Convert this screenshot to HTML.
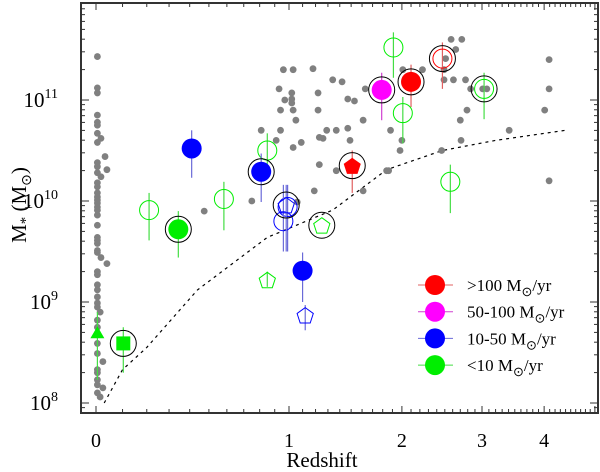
<!DOCTYPE html>
<html><head><meta charset="utf-8"><style>
html,body{margin:0;padding:0;background:#fff;}
svg{display:block;font-family:"Liberation Serif",serif;}
</style></head><body>
<svg id="chart" width="600" height="472" viewBox="0 0 600 472" xmlns="http://www.w3.org/2000/svg"></svg>
<script>
// ---- data ----
const greyZ = [0.005,0.005,0.005,0.005,0.005,0.005,0.005,0.005,0.018,0.033,0.005,0.005,0.04,0.005,0.018,0.005,0.005,0.005,0.005,0.005,0.005,0.005,0.005,0.005,0.005,0.005,0.005,0.005,0.005,0.005,0.018,0.04,0.005,0.005,0.005,0.005,0.005,0.005,0.005,0.015,0.005,0.005,0.005,0.005,0.005,0.025,0.005,0.005,0.005,0.005,0.025,0.005,0.015,
0.96,1.03,1.18,1.34,1.42,0.93,1.02,1.22,0.97,1.02,1.02,1.47,1.53,1.63,0.94,1.03,1.22,1.05,1.61,0.81,0.94,1.29,1.37,1.47,1.88,0.91,1.09,1.23,1.26,1.49,1.03,1.23,1.37,1.86,0.75,1.19,1.61,0.475,1.06,
2.58,2.72,2.64,2.51,2.01,2.23,2.49,2.49,2.61,2.77,2.84,3.01,3.07,4.09,4.09,2.79,2.70,4.01,3.41,2.0,2.71,1.98,2.46,1.84,4.09];
const greyM = [11.43,11.12,11.07,10.85,10.78,10.75,10.67,10.58,10.62,10.44,10.38,10.34,10.31,10.28,10.24,10.18,10.14,10.08,10.04,10.01,9.98,9.94,9.91,9.86,9.76,9.64,9.61,9.58,9.51,9.49,9.44,9.38,9.30,9.27,9.17,9.12,9.05,8.99,8.95,8.90,8.82,8.75,8.69,8.59,8.49,8.41,8.33,8.30,8.23,8.18,8.15,8.10,8.06,
11.30,11.30,11.31,11.20,11.18,11.11,11.07,11.07,11.00,11.01,10.97,11.01,10.99,11.11,10.90,10.90,10.90,10.80,10.80,10.70,10.70,10.70,10.70,10.72,10.70,10.60,10.58,10.63,10.62,10.60,10.53,10.36,10.30,10.30,10.00,10.10,10.10,9.90,9.99,
11.60,11.60,11.50,11.41,11.30,11.30,11.30,11.20,11.20,11.20,11.11,11.11,11.11,11.40,11.11,10.90,10.80,10.90,10.70,10.60,10.60,10.50,10.50,10.30,10.20];

// coloured sources
const srcZ    = [0.005,0.103,0.21,0.344,0.41,0.583,0.85,0.81,0.99,0.96,0.98,1.25,1.51,1.79,2.10,1.91,2.01,2.47,3.03,2.57,0.85,1.10,1.12];
const srcM    = [8.69,8.59,9.91,9.72,10.52,10.02,10.50,10.29,9.94,9.80,9.96,9.76,10.35,11.10,11.18,11.52,10.87,11.41,11.11,10.19,9.22,9.31,8.87];
const srcLo   = [8.23,8.30,9.61,9.44,10.23,9.71,10.36,9.99,9.50,9.50,9.50,9.76,10.08,10.80,10.93,11.22,10.57,11.11,10.81,9.88,9.15,9.00,8.72];
const srcHi   = [8.90,8.75,10.08,9.90,10.70,10.19,10.67,10.47,10.16,10.16,10.16,9.76,10.50,11.27,11.35,11.67,11.03,11.57,11.27,10.36,9.30,9.49,8.97];
const srcCls  = ['g','g','g','g','b','g','g','b','b','b','b','g','r','m','r','g','g','r','g','g','g','b','b'];
const srcShape= ['tri','sq','circ','circ','circ','circ','circ','circ','circ','circ','pent','pent','pent','circ','circ','circ','circ','circ','circ','circ','pent','circ','pent'];
const srcFill = [1,1,0,1,1,0,0,1,0,0,0,0,1,1,1,0,0,0,0,0,0,1,0];
const srcRing = [0,1,0,1,0,0,0,1,0,0,1,1,1,1,1,0,0,1,1,0,0,0,0];

// detection-limit curve
const curveZ = [0.03,0.1,0.2,0.44,0.85,1.34,1.84,2.47,3.2,4.4];
const curveM = [8.0,8.33,8.55,9.12,9.64,9.91,10.31,10.50,10.60,10.70];

const xTickVals = [0,1,2,3,4];
const yTickExps = [8,9,10,11];
const legendLabels = ['>100 ','50-100 ','10-50 ','<10 '];
const legendCls = ['r','m','b','g'];

// ---- layout ----
const L=81,R=598,T=3,B=413;
const colors={r:'#ff0000',m:'#ff00ff',b:'#0000ff',g:'#00ee00'};
const errColors={r:'#e06060',m:'#d040d0',b:'#6a6ad8',g:'#44dd44'};
function xs(z){return 96+193*Math.log2(1+z);}
function ys(m){return 403-(m-8)*101;}
const NS='http://www.w3.org/2000/svg';
const svg=document.getElementById('chart');
function mk(tag,attrs,parent){const e=document.createElementNS(NS,tag);for(const k in attrs)e.setAttribute(k,attrs[k]);(parent||svg).appendChild(e);return e;}

// curve
let d='';
curveZ.forEach((z,i)=>{d+=(i?'L':'M')+xs(z).toFixed(1)+','+ys(curveM[i]).toFixed(1);});
const cv=mk('path',{d:d,fill:'none',stroke:'#000','stroke-width':1.2,'stroke-dasharray':'3,4'});



// grey points
greyZ.forEach((z,i)=>{
  const c=mk('circle',{cx:xs(z),cy:ys(greyM[i]),r:3.4,fill:'#808080'});
  
  
});

function pent(cx,cy,r){let p=[];for(let k=0;k<5;k++){const a=-Math.PI/2+k*2*Math.PI/5;p.push((cx+r*Math.cos(a)).toFixed(1)+','+(cy+r*Math.sin(a)).toFixed(1));}return p.join(' ');}

srcZ.forEach((z,i)=>{
  const x=xs(z),y=ys(srcM[i]),c=srcCls[i];
  const g=mk('g',{});
  
  
  if(srcHi[i]>srcLo[i]) mk('line',{x1:x,x2:x,y1:ys(srcHi[i]),y2:ys(srcLo[i]),stroke:errColors[c],'stroke-width':1.2},g);
  const fill=srcFill[i]?colors[c]:'none';
  const sw=srcFill[i]?0:1;
  if(srcShape[i]==='circ') mk('circle',{cx:x,cy:y,r:srcFill[i]?10:9.5,fill:fill,stroke:colors[c],'stroke-width':sw},g);
  else if(srcShape[i]==='pent') mk('polygon',{points:pent(x,y+1,srcFill[i]?9:8.5),fill:fill,stroke:colors[c],'stroke-width':sw},g);
  else if(srcShape[i]==='sq') mk('rect',{x:x-7,y:y-7,width:14,height:14,fill:fill},g);
  else if(srcShape[i]==='tri') mk('polygon',{points:`${x},${y-7} ${x+7},${y+5} ${x-7},${y+5}`,fill:fill},g);
  if(srcRing[i]) mk('circle',{cx:x,cy:y,r:13,fill:'none',stroke:'#000','stroke-width':1},g);
});

// frame
const fr=mk('rect',{x:L,y:T,width:R-L,height:B-T,fill:'none',stroke:'#333','stroke-width':2});



// x ticks
for(let k=0;k<=50;k++){
  const z=k/10, x=xs(z); if(x>R-1)break;
  const major=(k%10===0), len=major?7:4;
  mk('line',{x1:x,x2:x,y1:B,y2:B-len,stroke:'#333','stroke-width':1});
  mk('line',{x1:x,x2:x,y1:T,y2:T+len,stroke:'#333','stroke-width':1});
}
xTickVals.forEach(v=>{
  const t=mk('text',{x:xs(v),y:447,'font-size':20,'text-anchor':'middle',fill:'#000'});
  t.textContent=v;
  
  
});
// y ticks
for(let e=7;e<=11;e++){for(let m=1;m<=9;m++){
  const v=e+Math.log10(m), y=ys(v); if(y<T+1||y>B-1)continue;
  const len=m===1?8:4;
  mk('line',{x1:L,x2:L+len,y1:y,y2:y,stroke:'#333','stroke-width':1});
  mk('line',{x1:R,x2:R-len,y1:y,y2:y,stroke:'#333','stroke-width':1});
}}
yTickExps.forEach(e=>{
  const t=mk('text',{x:58,y:ys(e)+7,'font-size':21,'text-anchor':'end',fill:'#000'});
  t.textContent='10';
  const s=mk('tspan',{dy:-9,'font-size':14},t); s.textContent=e;
  
  
});

// axis titles
const xt=mk('text',{x:322,y:467,'font-size':21,'text-anchor':'middle',fill:'#000'});
xt.textContent='Redshift';


const yt=mk('text',{x:0,y:0,'font-size':21,'text-anchor':'middle',fill:'#000',transform:'translate(26,205) rotate(-90)'});


yt.appendChild(document.createTextNode('M'));
const ys1=mk('tspan',{dy:4,'font-size':15},yt); ys1.textContent='*';
const ys2=mk('tspan',{dy:-4},yt); ys2.textContent=' (M';
const ys3=mk('tspan',{dy:5,'font-size':14},yt); ys3.textContent='⊙';
const ys4=mk('tspan',{dy:-5},yt); ys4.textContent=')';

// legend
legendCls.forEach((c,i)=>{
  const y=285+i*26.7;
  const g=mk('g',{});
  
  
  mk('line',{x1:418,x2:453,y1:y,y2:y,stroke:errColors[c],'stroke-width':1},g);
  mk('circle',{cx:435,cy:y,r:10,fill:colors[c]},g);
  const t=mk('text',{x:467,y:y+6,'font-size':17,fill:'#000'},g);
  t.appendChild(document.createTextNode(legendLabels[i]+'M'));
  const s=mk('tspan',{dy:5,'font-size':13},t); s.textContent='⊙';
  const s2=mk('tspan',{dy:-5},t); s2.textContent='/yr';
});
</script>
</body></html>
